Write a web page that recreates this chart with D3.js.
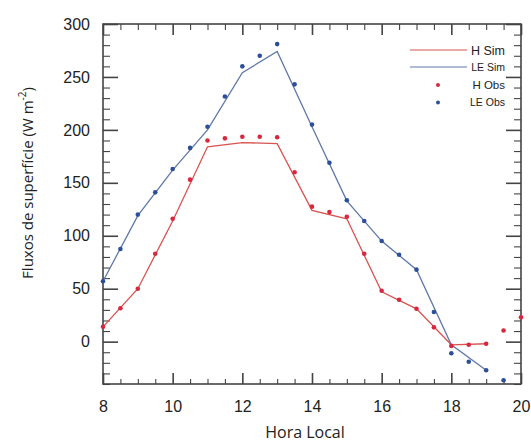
<!DOCTYPE html>
<html><head><meta charset="utf-8">
<script src="https://cdn.jsdelivr.net/npm/d3@7"></script>
<style>html,body{margin:0;padding:0;background:#fff;}svg{display:block;}</style>
</head><body>
<svg id="c" width="531" height="443"></svg>
<script>
// Data
const obsHours = [8,8.5,9,9.5,10,10.5,11,11.5,12,12.5,13,13.5,14,14.5,15,15.5,16,16.5,17,17.5,18,18.5,19,19.5];
const leObs = [57,87.5,120,141,163,183,203,231.5,260,270,281,243,205,169,133.5,114,95,82,68,28,-11,-19,-27,-36.5];
const hObsHours = [8,8.5,9,9.5,10,10.5,11,11.5,12,12.5,13,13.5,14,14.5,15,15.5,16,16.5,17,17.5,18,18.5,19,19.5,20];
const hObs = [14,31.5,50,83,116,153,190,192,193.5,193.5,193,160,127.5,122.5,118,83,48,39.5,31,13.5,-4,-3,-2,10.5,23];
const simHours = [8,9,10,11,12,13,14,15,16,17,18,19];
const hSim = [14,50,114,184,188,187,124,116,47,31,-3,-2];
const leSim = [57,119,162,200,254,274,203,133,95,68,-3,-27];
const xTicks = [8,10,12,14,16,18,20];
const xMinorTicks = [8.5,9,9.5,10.5,11,11.5,12.5,13,13.5,14.5,15,15.5,16.5,17,17.5,18.5,19,19.5];
const yTicks = [0,50,100,150,200,250,300];
const yMinorTicks = [-40,-30,-20,-10,10,20,30,40,60,70,80,90,110,120,130,140,160,170,180,190,210,220,230,240,260,270,280,290];
const legendItems = ["H Sim","LE Sim","H Obs","LE Obs"];

const svg = d3.select("#c");
const L = 103, R = 521, T = 24, B = 384;
const x = d3.scaleLinear().domain([8,20]).range([L,R]);
const y = d3.scaleLinear().domain([-40,300]).range([B,T]);

const redLine = "#d9534f", blueLine = "#5f78a8";
const redDot = "#d8283f", blueDot = "#2c4f9a";
const axisCol = "#444";

function styleAxis(sel, w) {
  sel.select(".domain").remove();
  sel.selectAll(".tick line").attr("stroke", axisCol).attr("stroke-width", w);
  sel.selectAll(".tick text").remove();
}
// Minor ticks
svg.append("g").attr("transform", `translate(0,${B})`)
  .call(d3.axisBottom(x).tickValues(xMinorTicks).tickSize(-5)).call(s => styleAxis(s, 1.1));
svg.append("g").attr("transform", `translate(0,${T})`)
  .call(d3.axisTop(x).tickValues(xMinorTicks).tickSize(-6)).call(s => styleAxis(s, 1.1));
svg.append("g").attr("transform", `translate(${L},0)`)
  .call(d3.axisLeft(y).tickValues(yMinorTicks).tickSize(-7)).call(s => styleAxis(s, 1.1));
svg.append("g").attr("transform", `translate(${R},0)`)
  .call(d3.axisRight(y).tickValues(yMinorTicks).tickSize(-7)).call(s => styleAxis(s, 1.1));
// Major ticks
svg.append("g").attr("transform", `translate(0,${T})`)
  .call(d3.axisTop(x).tickValues(xTicks).tickSize(-11)).call(s => styleAxis(s, 1.6));
svg.append("g").attr("transform", `translate(${R},0)`)
  .call(d3.axisRight(y).tickValues(yTicks).tickSize(-15)).call(s => styleAxis(s, 1.6));
const xAxis = svg.append("g").attr("transform", `translate(0,${B})`)
  .call(d3.axisBottom(x).tickValues(xTicks).tickSize(-11).tickPadding(17));
xAxis.select(".domain").remove();
xAxis.selectAll(".tick line").attr("stroke", axisCol).attr("stroke-width", 1.6);
xAxis.selectAll(".tick text").attr("font-family", "Liberation Sans, Arial, sans-serif")
  .attr("font-size", 16).attr("fill", "#222");
const yAxis = svg.append("g").attr("transform", `translate(${L},0)`)
  .call(d3.axisLeft(y).tickValues(yTicks).tickSize(-15));
yAxis.select(".domain").remove();
yAxis.selectAll(".tick line").attr("stroke", axisCol).attr("stroke-width", 1.6);
yAxis.selectAll(".tick text").attr("x", -13).attr("font-family", "Liberation Sans, Arial, sans-serif")
  .attr("font-size", 16).attr("fill", "#222");

svg.append("rect").attr("x", L).attr("y", T).attr("width", R - L).attr("height", B - T)
  .attr("fill", "none").attr("stroke", axisCol).attr("stroke-width", 1.6);

// Axis titles
svg.append("text").attr("x", 305).attr("y", 438).attr("text-anchor", "middle")
  .attr("font-family", "Open Sans, sans-serif").attr("font-size", 16).attr("fill", "#222")
  .text("Hora Local");
const yt = svg.append("text").attr("transform", "translate(33,183) rotate(-90)")
  .attr("text-anchor", "middle").attr("font-family", "Open Sans, sans-serif")
  .attr("font-size", 15).attr("fill", "#222");
yt.append("tspan").text("Fluxos de superfície (W m");
yt.append("tspan").attr("baseline-shift", "super").attr("font-size", 10).text("-2");
yt.append("tspan").text(")");

// Lines
const line = d3.line().x(d => x(d[0])).y(d => y(d[1]));
svg.append("path").datum(simHours.map((h, i) => [h, hSim[i]])).attr("d", line)
  .attr("fill", "none").attr("stroke", redLine).attr("stroke-width", 1.3);
svg.append("path").datum(simHours.map((h, i) => [h, leSim[i]])).attr("d", line)
  .attr("fill", "none").attr("stroke", blueLine).attr("stroke-width", 1.3);

// Dots
svg.selectAll(".ho").data(hObsHours.map((h, i) => [h, hObs[i]])).enter().append("circle")
  .attr("cx", d => x(d[0])).attr("cy", d => y(d[1])).attr("r", 2.3).attr("fill", redDot);
svg.selectAll(".lo").data(obsHours.map((h, i) => [h, leObs[i]])).enter().append("circle")
  .attr("cx", d => x(d[0])).attr("cy", d => y(d[1])).attr("r", 2.3).attr("fill", blueDot);

// Legend
const lg = svg.append("g").attr("font-family", "Liberation Sans, Arial, sans-serif").attr("fill", "#222");
const legY = [50, 67, 85, 102.5];
const legSize = [12.5, 10.5, 11.5, 10.5];
legendItems.forEach((name, i) => {
  if (i < 2) {
    lg.append("line").attr("x1", 410).attr("x2", 467).attr("y1", legY[i]).attr("y2", legY[i])
      .attr("stroke", i === 0 ? redLine : blueLine).attr("stroke-width", 1.1);
  } else {
    lg.append("circle").attr("cx", 438).attr("cy", legY[i]).attr("r", 2)
      .attr("fill", i === 2 ? redDot : blueDot);
  }
  lg.append("text").attr("x", 505).attr("y", legY[i] + legSize[i] * 0.36)
    .attr("text-anchor", "end").attr("font-size", legSize[i]).text(name);
});
</script>
</body></html>
